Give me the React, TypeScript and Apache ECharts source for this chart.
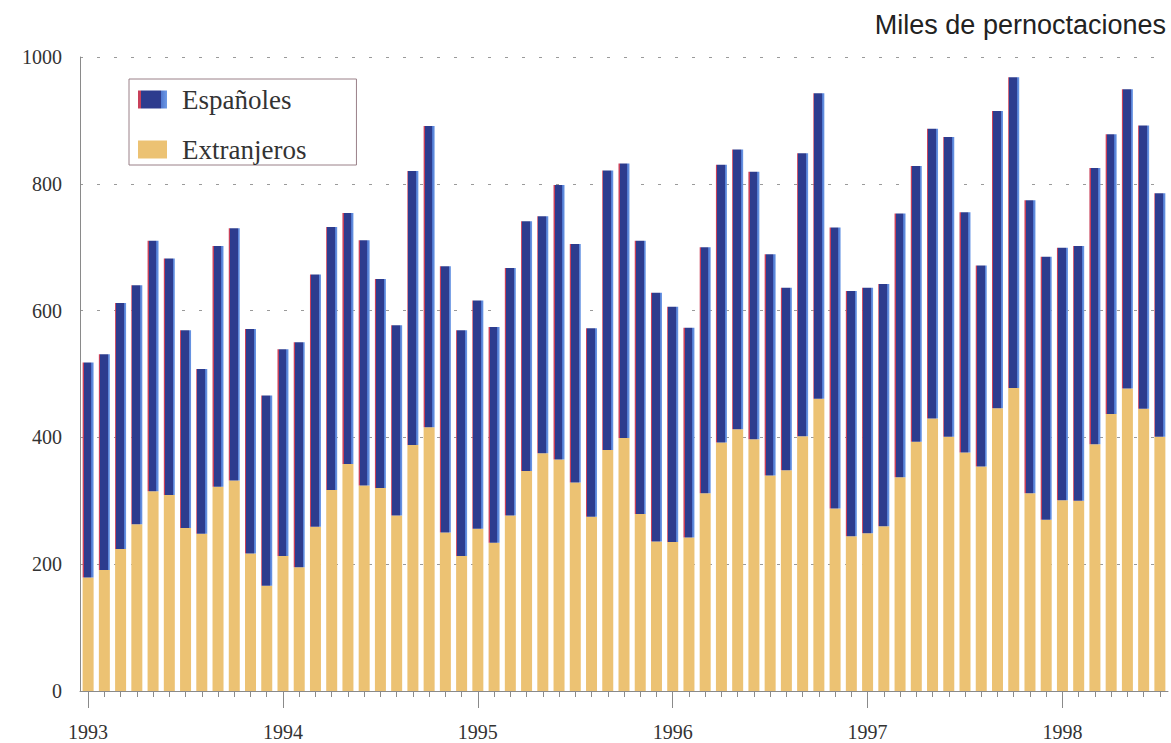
import React, { useEffect, useRef } from "react";
import * as echarts from "echarts";

const months: string[] = [
  "1993-01","1993-02","1993-03","1993-04","1993-05","1993-06","1993-07","1993-08","1993-09","1993-10","1993-11","1993-12",
  "1994-01","1994-02","1994-03","1994-04","1994-05","1994-06","1994-07","1994-08","1994-09","1994-10","1994-11","1994-12",
  "1995-01","1995-02","1995-03","1995-04","1995-05","1995-06","1995-07","1995-08","1995-09","1995-10","1995-11","1995-12",
  "1996-01","1996-02","1996-03","1996-04","1996-05","1996-06","1996-07","1996-08","1996-09","1996-10","1996-11","1996-12",
  "1997-01","1997-02","1997-03","1997-04","1997-05","1997-06","1997-07","1997-08","1997-09","1997-10","1997-11","1997-12",
  "1998-01","1998-02","1998-03","1998-04","1998-05","1998-06","1998-07",
];

// Extranjeros (bottom part of each bar), miles de pernoctaciones
const extranjeros: number[] = [
  179, 191, 224, 263, 315, 309, 257, 248, 322, 332, 217, 166,
  213, 195, 259, 317, 358, 324, 320, 277, 388, 416, 250, 213,
  256, 234, 277, 347, 375, 365, 329, 275, 380, 399, 279, 236,
  235, 242, 312, 392, 413, 397, 340, 348, 402, 461, 288, 244,
  249, 260, 337, 393, 430, 401, 376, 354, 446, 478, 312, 270,
  301, 300, 389, 437, 477, 445, 401,
];

// Españoles (top part of each bar)
const espanoles: number[] = [
  339, 340, 388, 377, 395, 373, 312, 260, 380, 398, 354, 300,
  326, 355, 398, 415, 396, 387, 330, 300, 432, 475, 420, 356,
  360, 340, 390, 394, 374, 433, 376, 297, 441, 433, 431, 392,
  371, 331, 388, 438, 441, 422, 349, 288, 446, 482, 443, 387,
  387, 382, 416, 435, 457, 473, 379, 317, 469, 490, 462, 415,
  398, 402, 436, 441, 472, 447, 384,
];

const yTicks = { min: 0, max: 1000, interval: 200 };

const serif = "Liberation Serif, Times New Roman, serif";
const sans = "Liberation Sans, Arial, sans-serif";

export default function App() {
  const ref = useRef<HTMLDivElement>(null);

  useEffect(() => {
    document.body.style.margin = "0";
    if (!ref.current) return;
    const chart = echarts.init(ref.current, undefined, { renderer: "svg" });

    const blueFill = new echarts.graphic.LinearGradient(0, 0, 1, 0, [
      { offset: 0, color: "#c8405a" },
      { offset: 0.1, color: "#c8405a" },
      { offset: 0.1, color: "#2d3c8e" },
      { offset: 0.8, color: "#2d3c8e" },
      { offset: 0.8, color: "#4f78d0" },
      { offset: 1, color: "#6e9ae6" },
    ]);

    chart.setOption({
      animation: false,
      backgroundColor: "#ffffff",
      title: {
        text: "Miles de pernoctaciones",
        right: 0,
        top: 6,
        textStyle: { fontFamily: sans, fontSize: 27, fontWeight: "normal", color: "#222" },
      },
      legend: {
        orient: "vertical",
        left: 129,
        top: 79,
        data: ["Españoles", "Extranjeros"],
        icon: "rect",
        itemWidth: 29,
        itemHeight: 18,
        itemGap: 23,
        padding: [7, 50, 2, 9],
        borderColor: "#9a8088",
        borderWidth: 1,
        textStyle: { fontFamily: serif, fontSize: 27, color: "#333", padding: [0, 0, 0, 10] },
      },
      grid: { left: 80, right: 3, top: 57, bottom: 52, containLabel: false },
      xAxis: [
        {
          type: "category",
          data: months,
          position: "bottom",
          axisLine: { show: true, lineStyle: { color: "#8a8a8a", width: 1 } },
          axisTick: { show: true, alignWithLabel: true, interval: 0, length: 6, lineStyle: { color: "#8a8a8a" } },
          axisLabel: { show: false },
          splitLine: { show: false },
        },
        {
          type: "category",
          data: months,
          position: "bottom",
          offset: 0,
          axisLine: { show: false },
          axisTick: { show: true, alignWithLabel: true, interval: 11, length: 17, lineStyle: { color: "#8a8a8a" } },
          axisLabel: {
            show: true,
            interval: 11,
            margin: 31,
            fontFamily: serif,
            fontSize: 20,
            color: "#333",
            formatter: (v: string) => v.slice(0, 4),
          },
          splitLine: { show: false },
        },
      ],
      yAxis: {
        type: "value",
        min: yTicks.min,
        max: yTicks.max,
        interval: yTicks.interval,
        axisLine: { show: true, lineStyle: { color: "#8a8a8a", width: 1 } },
        axisTick: { show: false },
        axisLabel: {
          fontFamily: serif,
          fontSize: 20,
          color: "#333",
          margin: 18,
          formatter: (v: number) => String(v),
        },
        splitLine: { show: true, lineStyle: { type: [3, 14], color: "#9a9a9a", width: 1 } },
      },
      series: [
        {
          name: "Extranjeros",
          type: "bar",
          stack: "total",
          xAxisIndex: 0,
          barWidth: 11,
          data: extranjeros,
          itemStyle: { color: "#ecc273" },
        },
        {
          name: "Españoles",
          type: "bar",
          stack: "total",
          xAxisIndex: 0,
          barWidth: 11,
          data: espanoles,
          itemStyle: { color: blueFill },
        },
      ],
    });

    return () => chart.dispose();
  }, []);

  return <div ref={ref} style={{ width: 1171, height: 743 }} />;
}
